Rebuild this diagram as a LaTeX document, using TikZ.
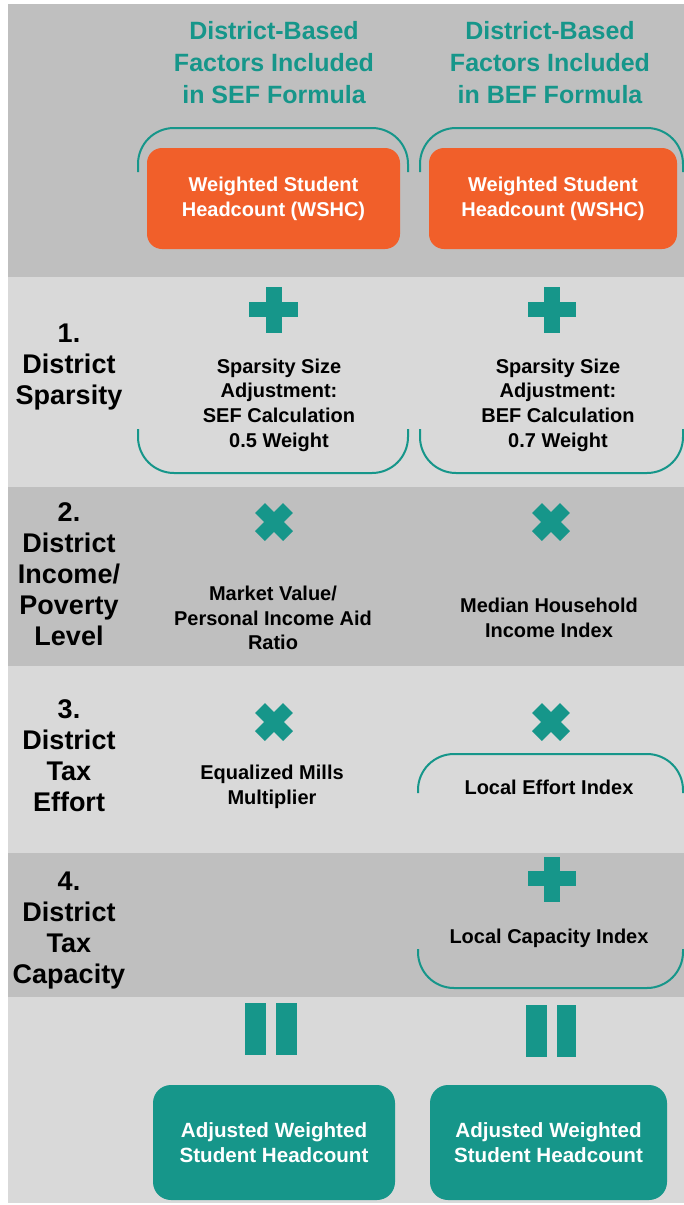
\documentclass[tikz,border=0pt]{standalone}
\usepackage{fontspec}
\setmainfont{Liberation Sans}
\usepackage{tikz}
\usetikzlibrary{positioning}
\definecolor{sefteal}{RGB}{22,150,138}
\definecolor{wshcorange}{RGB}{241,95,42}
\definecolor{banddark}{RGB}{191,191,191}
\definecolor{bandlight}{RGB}{217,217,217}
\tikzset{
  % column heads and row labels
  colhead/.style={text=sefteal, align=center, font=\fontsize{12.5}{16}\selectfont\bfseries},
  rowlabel/.style={align=center, font=\fontsize{13.5}{15.5}\selectfont\bfseries},
  factor/.style={align=center, font=\fontsize{10}{12.3}\selectfont\bfseries},
  % coloured boxes
  wshcbox/.style={fill=wshcorange, text=white, rounded corners=7.5pt, align=center,
    minimum height=50.5pt, font=\fontsize{10}{12.5}\selectfont\bfseries},
  adjbox/.style={fill=sefteal, text=white, rounded corners=9pt, align=center,
    minimum height=57.5pt, font=\fontsize{10.3}{12.5}\selectfont\bfseries},
  % brackets and operators
  brace/.style={draw=sefteal, line width=1pt, rounded corners=18pt},
  opfill/.style={fill=sefteal},
  xmark/.style={draw=sefteal, line width=7pt},
}
\begin{document}
\begin{tikzpicture}[x=0.5pt,y=-0.5pt]
\useasboundingbox (0,0) rectangle (684,1205);
\fill[white] (0,0) rectangle (684,1205);

% bands
\fill[banddark] (8,4) rectangle (684,277);
\fill[bandlight] (8,277) rectangle (684,487);
\fill[banddark] (8,487) rectangle (684,666);
\fill[bandlight] (8,666) rectangle (684,853);
\fill[banddark] (8,853) rectangle (684,997);
\fill[bandlight] (8,997) rectangle (684,1203);

% headings
\node[colhead] (sefhead) at (274,63) {District-Based\\Factors Included\\in SEF Formula};
\node[colhead] (befhead) at (550,63) {District-Based\\Factors Included\\in BEF Formula};

% WSHC
\draw[brace] (138,172) |- (273,128) -| (408,172);
\draw[brace] (420,172) |- (552,128) -| (683,172);
\node[wshcbox, minimum width=126.5pt] (sefwshc) at (273.5,198.5) {Weighted Student\\Headcount (WSHC)};
\node[wshcbox, minimum width=124pt] (befwshc) at (553,198.5) {Weighted Student\\Headcount (WSHC)};

% 1. sparsity
\node[rowlabel] (sparsity) at (69,367) {1.\\District\\Sparsity};
\fill[opfill] (249,302) rectangle (298,317);
\fill[opfill] (266,287) rectangle (282,333);
\fill[opfill] (528,302) rectangle (576,317);
\fill[opfill] (544,287) rectangle (560,333);
\node[factor] (sefsparse) at (279,405) {Sparsity Size\\Adjustment:\\SEF Calculation\\0.5 Weight};
\node[factor] (befsparse) at (558,405) {Sparsity Size\\Adjustment:\\BEF Calculation\\0.7 Weight};
\draw[brace] (138,429) |- (273,473) -| (408,429);
\draw[brace] (420,429) |- (552,473) -| (683,429);

% 2. income
\node[rowlabel] (income) at (69,574) {2.\\District\\Income/\\Poverty\\Level};
\draw[xmark] (260,508) -- (288,536);
\draw[xmark] (260,536) -- (288,508);
\draw[xmark] (537,508) -- (565,536);
\draw[xmark] (537,536) -- (565,508);
\node[factor] (sefincome) at (273,618) {Market Value/\\Personal Income Aid\\Ratio};
\node[factor] (befincome) at (549,618) {Median Household\\Income Index};

% 3. tax effort
\node[rowlabel] (effort) at (69,756) {3.\\District\\Tax\\Effort};
\draw[xmark] (260,708) -- (288,736);
\draw[xmark] (260,736) -- (288,708);
\draw[xmark] (537,708) -- (565,736);
\draw[xmark] (537,736) -- (565,708);
\node[factor] (sefeffort) at (272,787) {Equalized Mills\\Multiplier};
\draw[brace] (418,793) |- (550,754) -| (683,793);
\node[factor] (befeffort) at (549,787) {Local Effort Index};

% 4. tax capacity
\node[rowlabel] (capacity) at (69,931) {4.\\District\\Tax\\Capacity};
\fill[opfill] (528,871) rectangle (576,886);
\fill[opfill] (544,857) rectangle (560,902);
\node[factor] (befcapacity) at (549,938) {Local Capacity Index};
\draw[brace] (418,949) |- (550,988) -| (683,949);

% result
\fill[opfill] (245,1003) rectangle (266,1055);
\fill[opfill] (276,1003) rectangle (297,1055);
\fill[opfill] (526,1005) rectangle (547,1057);
\fill[opfill] (557,1005) rectangle (576,1057);
\node[adjbox, minimum width=121pt] (sefadj) at (274,1142.5) {Adjusted Weighted\\Student Headcount};
\node[adjbox, minimum width=118.5pt] (befadj) at (548.5,1142.5) {Adjusted Weighted\\Student Headcount};
\end{tikzpicture}
\end{document}
